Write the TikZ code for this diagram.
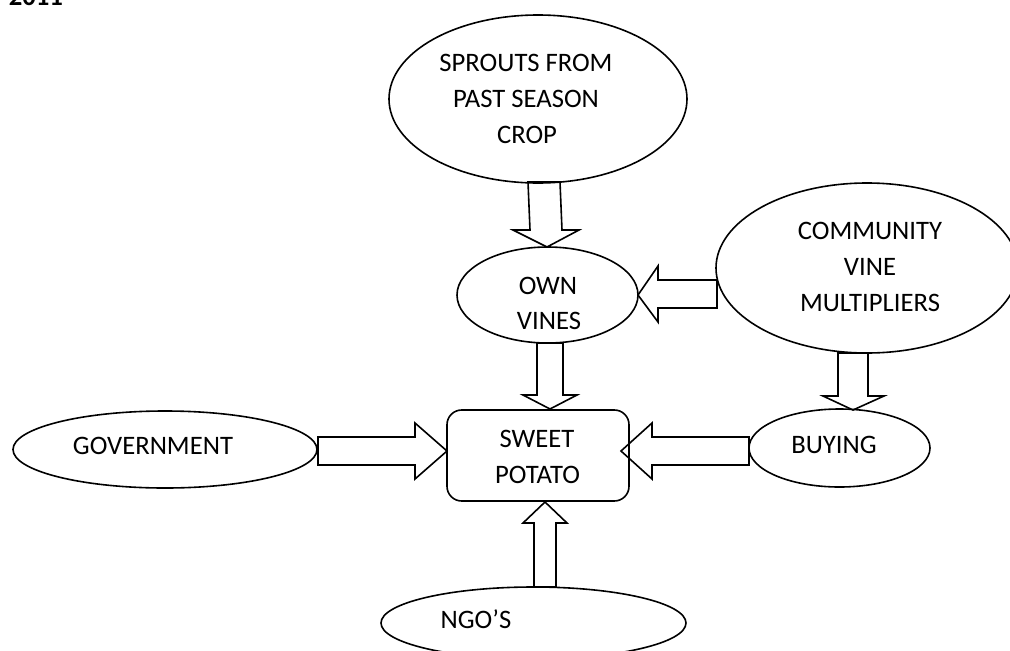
\documentclass[tikz,border=0pt]{standalone}
\usepackage{fontspec}
\setmainfont{Carlito}
\usetikzlibrary{shapes.geometric}
\tikzset{
  every picture/.style={line width=1.2pt},
  oval/.style={draw, ellipse, inner sep=0pt},
  potatobox/.style={draw, rectangle, rounded corners=11pt, inner sep=0pt},
  txt/.style={anchor=base, inner sep=0pt, font=\fontsize{20}{24}\selectfont},
  blockarrow/.style={draw, line join=miter},
}
\begin{document}
\begin{tikzpicture}[x=0.75pt,y=-0.75pt]
\useasboundingbox (0,0) rectangle (1010,650);
% title (cut off at top)
\node[txt, anchor=base west, font=\fontsize{20}{24}\selectfont\bfseries] (year) at (8,5) {2011};
% shapes
\node[oval, minimum width=223.5pt, minimum height=126pt] (sprouts) at (538,99) {};
\node[oval, minimum width=135.75pt, minimum height=72pt] (own) at (547.5,295) {};
\node[oval, minimum width=226.5pt, minimum height=127.5pt] (community) at (867,268) {};
\node[oval, minimum width=135.75pt, minimum height=58.5pt] (buying) at (839.5,448) {};
\node[oval, minimum width=228pt, minimum height=57.75pt] (gov) at (165,449.5) {};
\node[oval, minimum width=228.75pt, minimum height=54pt] (ngo) at (533.5,623) {};
\node[potatobox, minimum width=136.5pt, minimum height=68.25pt] (potato) at (538,455.5) {};
% texts
\node[txt] (t1) at (526,71) {SPROUTS FROM};
\node[txt] (t2) at (526,107) {PAST SEASON};
\node[txt] (t3) at (527,143) {CROP};
\node[txt] (t4) at (870,239) {COMMUNITY};
\node[txt] (t5) at (870,275) {VINE};
\node[txt] (t6) at (870,311) {MULTIPLIERS};
\node[txt] (t7) at (548,294) {OWN};
\node[txt] (t8) at (549,329) {VINES};
\node[txt] (t9) at (537,447) {SWEET};
\node[txt] (t10) at (537.5,483) {POTATO};
\node[txt] (t11) at (153,454) {GOVERNMENT};
\node[txt] (t12) at (834,453) {BUYING};
\node[txt] (t13) at (476,628) {NGO’S};
% block arrows
% sprouts -> own vines
\draw[blockarrow] (528,182) -- (530,230) -- (513,230) -- (547,247) -- (579,230) -- (562,230) -- (560,182) -- cycle;
% community -> own vines
\draw[blockarrow] (717,280) -- (658,280) -- (658,266) -- (638,295) -- (658,322) -- (658,308) -- (717,308) -- cycle;
% own vines -> sweet potato
\draw[blockarrow] (537,343) -- (537,395) -- (523,395) -- (550,409) -- (577,395) -- (563,395) -- (563,343) -- cycle;
% community -> buying
\draw[blockarrow] (838,353) -- (838,396) -- (823,396) -- (853,410) -- (884,396) -- (868,396) -- (868,353) -- cycle;
% buying -> sweet potato
\draw[blockarrow] (749,437) -- (652,437) -- (652,423) -- (621,451) -- (652,479) -- (652,465) -- (749,465) -- cycle;
% government -> sweet potato
\draw[blockarrow] (318,437) -- (415,437) -- (415,423) -- (447,451) -- (415,479) -- (415,465) -- (318,465) -- cycle;
% ngo -> sweet potato
\draw[blockarrow] (534,587) -- (534,523) -- (523,523) -- (545,502) -- (567,523) -- (556,523) -- (556,587) -- cycle;
\end{tikzpicture}
\end{document}
